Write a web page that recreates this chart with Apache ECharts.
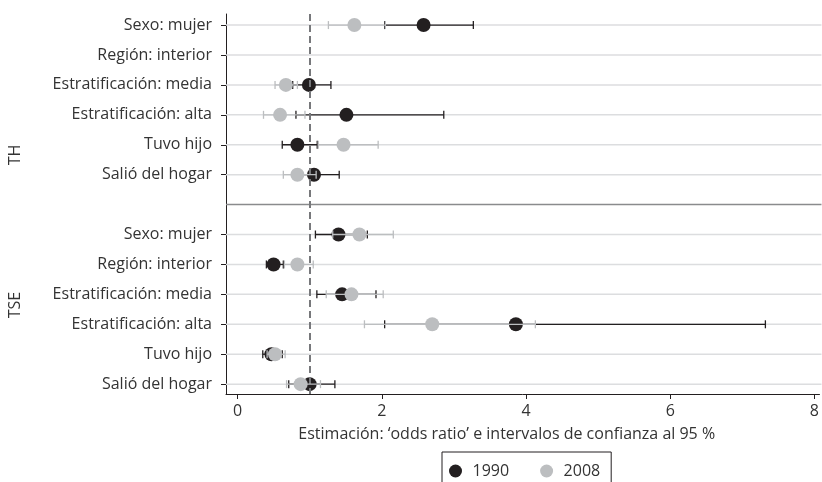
<!DOCTYPE html>
<html>
<head>
<meta charset="utf-8">
<script src="https://cdn.jsdelivr.net/npm/echarts@6/dist/echarts.min.js"></script>
<style>
  html, body { margin: 0; padding: 0; background: #fff; }
  #main { width: 822px; height: 482px; }
</style>
</head>
<body>
<div id="main"></div>
<script>
// variables in each panel, top to bottom
var rowLabels = ['Sexo: mujer', 'Región: interior', 'Estratificación: media',
                 'Estratificación: alta', 'Tuvo hijo', 'Salió del hogar'];
var groups = ['TH', 'TSE'];
var years = ['1990', '2008'];
var xTicks = [0, 2, 4, 6, 8];

// odds ratios and 95% CI, TH panel (null = not estimated)
var thEst1990 = [2.58, null, 0.99, 1.51, 0.83, 1.06];
var thLo1990  = [2.04, null, 0.765, 0.81, 0.62, 0.80];
var thHi1990  = [3.27, null, 1.295, 2.86, 1.105, 1.41];
var thEst2008 = [1.62, null, 0.67, 0.59, 1.47, 0.83];
var thLo2008  = [1.26, null, 0.52, 0.36, 1.12, 0.635];
var thHi2008  = [2.05, null, 0.83, 0.935, 1.95, 1.09];

// TSE panel
var tseEst1990 = [1.40, 0.50, 1.45, 3.86, 0.47, 1.00];
var tseLo1990  = [1.08, 0.40, 1.10, 2.04, 0.35, 0.71];
var tseHi1990  = [1.80, 0.635, 1.92, 7.32, 0.62, 1.35];
var tseEst2008 = [1.69, 0.83, 1.58, 2.70, 0.52, 0.875];
var tseLo2008  = [1.32, 0.65, 1.23, 1.76, 0.41, 0.68];
var tseHi2008  = [2.16, 1.05, 2.02, 4.13, 0.66, 1.15];

var BLACK = '#231f20', GREY = '#bcbec0';
var FONT = 'Open Sans';

// row positions: panel 0 rows 0..5, separator 6, panel 1 rows 7..12
var rowPos = [], rowName = {};
groups.forEach(function (g, gi) {
  rowLabels.forEach(function (lab, ri) {
    var y = gi * 7 + ri;
    rowPos.push(y);
    rowName[y] = lab;
  });
});

function points(a, b) {
  var out = [];
  [a, b].forEach(function (arr, gi) {
    arr.forEach(function (v, ri) { if (v != null) out.push([v, gi * 7 + ri]); });
  });
  return out;
}
function intervals(loA, hiA, loB, hiB) {
  var out = [];
  [[loA, hiA], [loB, hiB]].forEach(function (p, gi) {
    p[0].forEach(function (v, ri) { if (v != null) out.push([v, p[1][ri], gi * 7 + ri]); });
  });
  return out;
}

function ciRender(color) {
  return function (params, api) {
    var y = api.value(2);
    var a = api.coord([api.value(0), y]);
    var b = api.coord([api.value(1), y]);
    var st = { stroke: color, lineWidth: 1.3 };
    return {
      type: 'group',
      children: [
        { type: 'line', shape: { x1: a[0], y1: a[1], x2: b[0], y2: b[1] }, style: st },
        { type: 'line', shape: { x1: a[0], y1: a[1] - 4, x2: a[0], y2: a[1] + 4 }, style: st },
        { type: 'line', shape: { x1: b[0], y1: b[1] - 4, x2: b[0], y2: b[1] + 4 }, style: st }
      ]
    };
  };
}

function hLine(color, width) {
  return function (params, api) {
    var cs = params.coordSys;
    var y = api.coord([0, api.value(1)])[1];
    return {
      type: 'line',
      shape: { x1: cs.x, y1: y, x2: cs.x + cs.width + 2, y2: y },
      style: { stroke: color, lineWidth: width }
    };
  };
}

var chart = echarts.init(document.getElementById('main'));
chart.setOption({
  animation: false,
  textStyle: { fontFamily: FONT },
  grid: { left: 226, right: 2, top: 14, bottom: 88 },
  xAxis: {
    type: 'value', min: -0.16, max: 8.07,
    splitLine: { show: false },
    axisLine: { onZero: false, lineStyle: { color: BLACK, width: 1 } },
    axisTick: { show: true, length: 5, customValues: xTicks, lineStyle: { color: BLACK } },
    axisLabel: { customValues: xTicks, margin: 9, fontSize: 16, color: '#333', fontFamily: FONT },
    name: 'Estimación: ‘odds ratio’ e intervalos de confianza al 95 %',
    nameLocation: 'middle', nameGap: 32,
    nameTextStyle: { fontSize: 16, color: '#333', fontFamily: FONT, padding: [0, 32, 0, 0] }
  },
  yAxis: {
    type: 'value', inverse: true, min: -0.37, max: 12.33,
    splitLine: { show: false },
    axisLine: { show: true, onZero: false, lineStyle: { color: BLACK, width: 1 } },
    axisTick: { show: true, length: 5, customValues: rowPos, lineStyle: { color: BLACK } },
    axisLabel: {
      customValues: rowPos, margin: 14, fontSize: 16, color: '#333', fontFamily: FONT,
      formatter: function (v) { return rowName[v] || ''; }
    }
  },
  legend: {
    data: years,
    left: 442, top: 452,
    padding: [11, 11, 11, 7],
    itemWidth: 24, itemHeight: 13, itemGap: 31,
    borderColor: BLACK, borderWidth: 1,
    textStyle: { fontSize: 16, color: '#333', fontFamily: FONT }
  },
  graphic: [
    { type: 'text', x: 15, y: 155, rotation: Math.PI / 2,
      style: { text: groups[0], font: '16px "Open Sans"', fill: '#333', align: 'center', verticalAlign: 'middle' } },
    { type: 'text', x: 15, y: 305, rotation: Math.PI / 2,
      style: { text: groups[1], font: '16px "Open Sans"', fill: '#333', align: 'center', verticalAlign: 'middle' } }
  ],
  series: [
    {
      type: 'custom', silent: true, z: 1,
      renderItem: hLine('#dcdddf', 1.5),
      encode: { x: 0, y: 1 },
      data: rowPos.map(function (y) { return [0, y]; }),
      markLine: {
        silent: true, symbol: 'none', label: { show: false },
        lineStyle: { color: '#77787b', width: 2, type: [7, 4] },
        data: [{ xAxis: 1 }]
      }
    },
    {
      type: 'custom', silent: true, z: 1,
      renderItem: hLine('#8a8b8d', 1.5),
      encode: { x: 0, y: 1 },
      data: [[0, 6]]
    },
    {
      type: 'custom', silent: true, z: 3,
      renderItem: ciRender(BLACK),
      encode: { x: [0, 1], y: 2 },
      data: intervals(thLo1990, thHi1990, tseLo1990, tseHi1990)
    },
    {
      name: years[0], type: 'scatter', z: 4, symbolSize: 14,
      itemStyle: { color: BLACK, opacity: 1 },
      data: points(thEst1990, tseEst1990)
    },
    {
      type: 'custom', silent: true, z: 5,
      renderItem: ciRender(GREY),
      encode: { x: [0, 1], y: 2 },
      data: intervals(thLo2008, thHi2008, tseLo2008, tseHi2008)
    },
    {
      name: years[1], type: 'scatter', z: 6, symbolSize: 14,
      itemStyle: { color: GREY, opacity: 1 },
      data: points(thEst2008, tseEst2008)
    }
  ]
});
</script>
</body>
</html>
